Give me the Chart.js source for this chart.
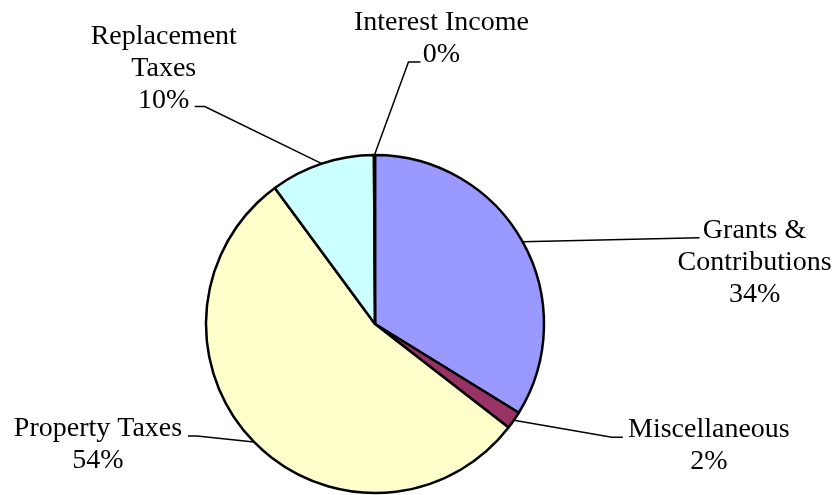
<!DOCTYPE html>
<html>
<head>
<meta charset="utf-8">
<script src="https://cdn.jsdelivr.net/npm/chart.js@4.4.0/dist/chart.umd.min.js"></script>
<style>
  html, body { margin: 0; padding: 0; background: #ffffff; }
  #wrap { width: 836px; height: 495px; position: relative; }
</style>
</head>
<body>
<div id="wrap"><canvas id="c" width="836" height="495"></canvas></div>
<script>
// ---- data ----
const categories = [
  ["Grants &", "Contributions"],
  ["Miscellaneous"],
  ["Property Taxes"],
  ["Replacement", "Taxes"],
  ["Interest Income"]
];
const shares = [33.8, 1.7, 54.4, 10.0, 0.1];
const sliceColors = ["#9999FF", "#993366", "#FFFFCC", "#CCFFFF", "#660066"];

// label placement relative to the slice's outer mid-point (leader start)
// e: leader elbow, h: end of horizontal tail, t: text centre x / first baseline
const labelLayout = [
  { e: [177, -4],  h: [177, -4],  t: [232, -4] },
  { e: [98, 17],   h: [109, 17],  t: [195, 17] },
  { e: [-57, -6],  h: [-66, -6],  t: [-156, -6] },
  { e: [-117, -57],h: [-127, -57],t: [-158, -120] },
  { e: [34, -93],  h: [46, -93],  t: [67, -125] }
];
const lineHeight = 32;
const labelFont = "28px 'Liberation Serif', 'Times New Roman', serif";

const leaderLabels = {
  id: 'leaderLabels',
  afterDatasetsDraw(chart) {
    const ctx = chart.ctx;
    const meta = chart.getDatasetMeta(0);
    const data = chart.data.datasets[0].data;
    const total = data.reduce((a, b) => a + b, 0);
    ctx.save();
    meta.data.forEach((arc, i) => {
      const p = arc.getProps(['x', 'y', 'startAngle', 'endAngle', 'outerRadius'], true);
      const mid = (p.startAngle + p.endAngle) / 2;
      const sx = p.x + Math.cos(mid) * p.outerRadius;
      const sy = p.y + Math.sin(mid) * p.outerRadius;
      const L = labelLayout[i];
      ctx.strokeStyle = '#000';
      ctx.lineWidth = 1.5;
      ctx.beginPath();
      ctx.moveTo(sx, sy);
      ctx.lineTo(sx + L.e[0], sy + L.e[1]);
      ctx.lineTo(sx + L.h[0], sy + L.h[1]);
      ctx.stroke();
      const lines = chart.data.labels[i].slice();
      lines.push(Math.round(data[i] / total * 100) + '%');
      ctx.fillStyle = '#000';
      ctx.font = labelFont;
      ctx.textAlign = 'center';
      ctx.textBaseline = 'alphabetic';
      lines.forEach((ln, k) => {
        ctx.fillText(ln, sx + L.t[0], sy + L.t[1] + k * lineHeight);
      });
    });
    ctx.restore();
  }
};

new Chart(document.getElementById('c'), {
  type: 'pie',
  data: {
    labels: categories,
    datasets: [{
      data: shares,
      backgroundColor: sliceColors,
      borderColor: '#000000',
      borderWidth: 2.5,
      radius: 169
    }]
  },
  options: {
    responsive: false,
    animation: false,
    layout: { padding: { left: 0, right: 86, top: 153, bottom: 0 } },
    plugins: {
      legend: { display: false },
      tooltip: { enabled: false }
    }
  },
  plugins: [leaderLabels]
});
</script>
</body>
</html>
